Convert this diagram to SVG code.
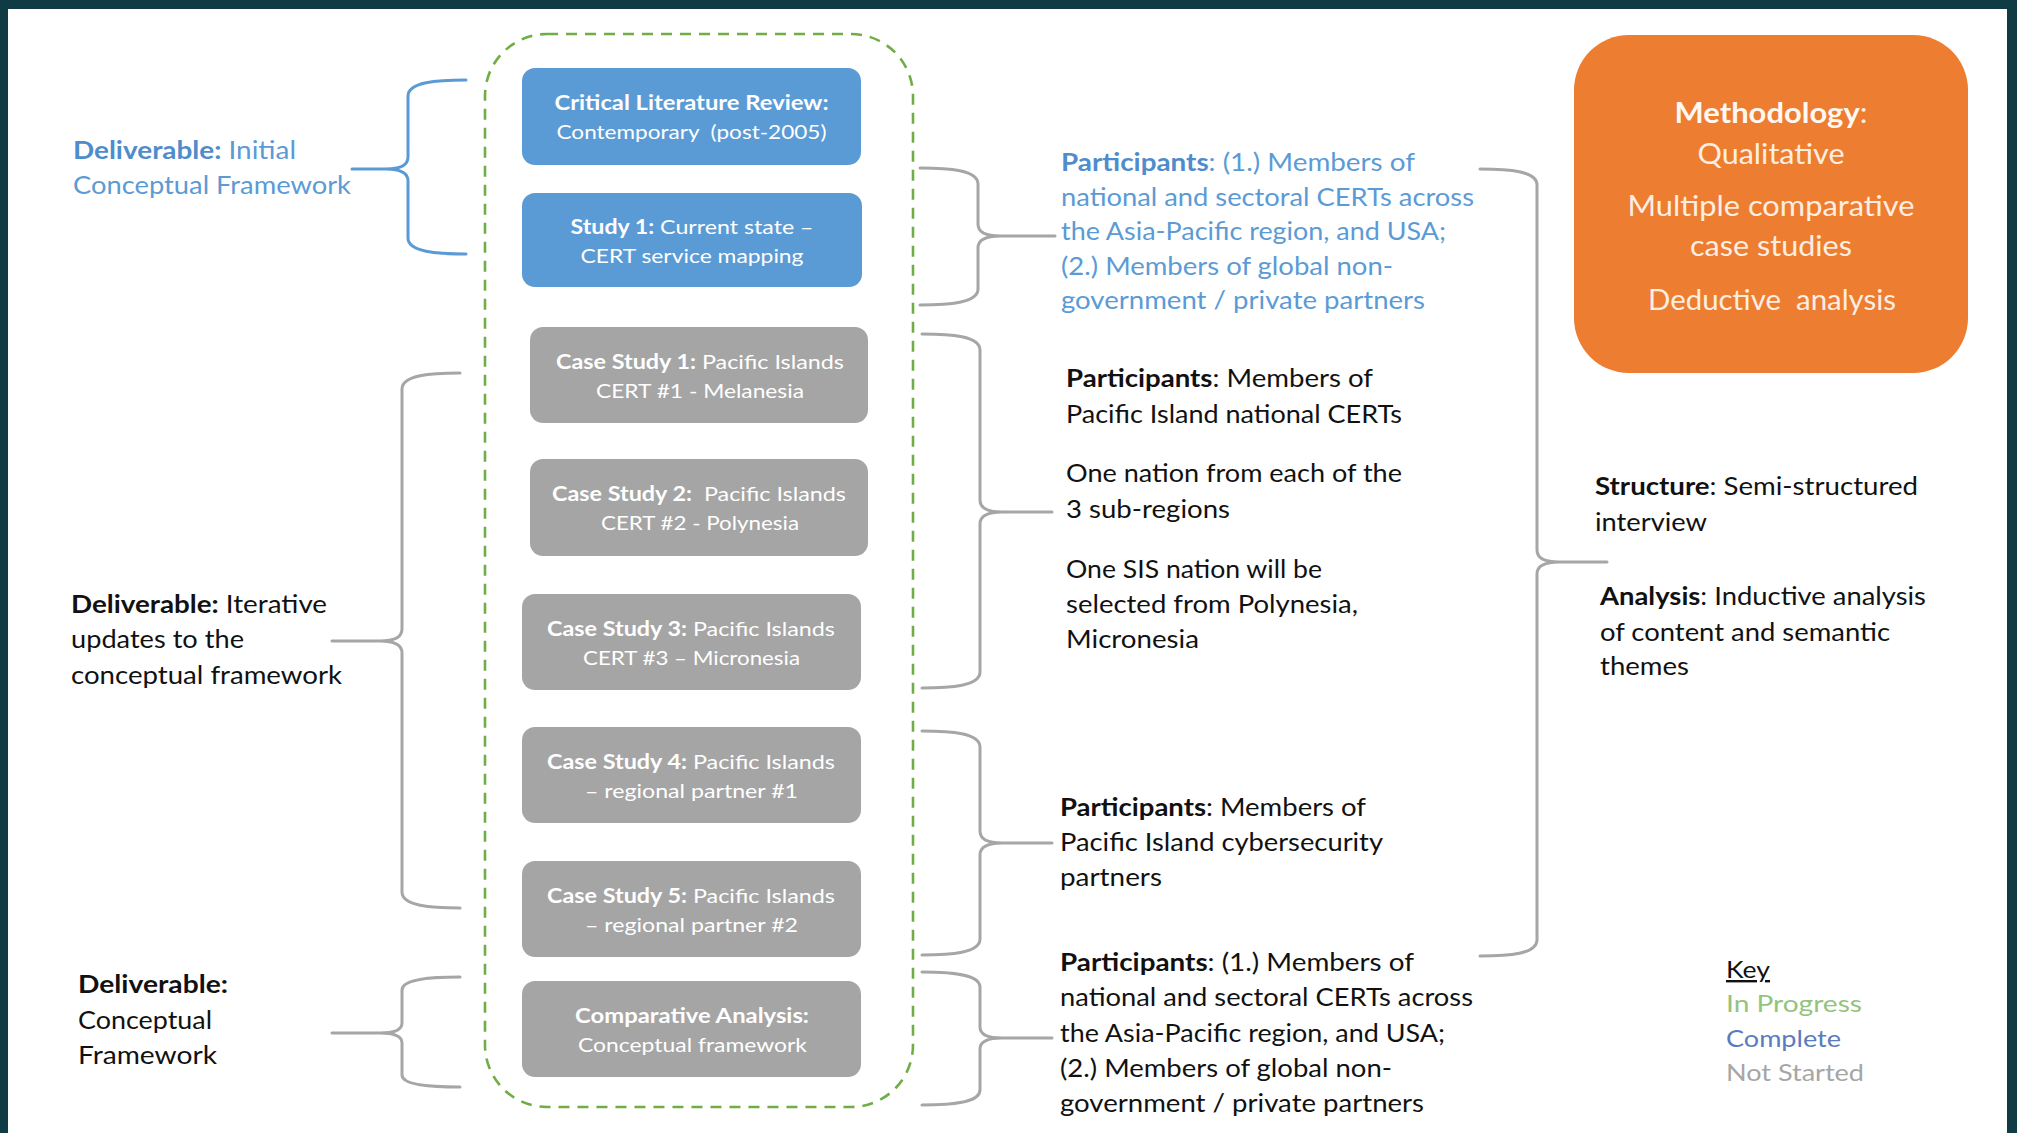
<svg xmlns="http://www.w3.org/2000/svg" width="2017" height="1133" viewBox="0 0 2017 1133">
  <style>
    text { font-family: Lato, "Liberation Sans", sans-serif; }
    .b { font-weight: bold; }
    .box-t { font-size: 20px; fill: #ffffff; text-anchor: middle; }
    .lbl { font-size: 25px; fill: #111111; }
    .blue { fill: #5b9bd5; }
    .blue-b { fill: #4f8ccb; }
    .meth { font-size: 28px; fill: #fdeee2; text-anchor: middle; }
    .key { font-size: 24px; }
    .done { fill: #5b9bd5; }
    .todo { fill: #a5a5a5; }
    .brace { fill: none; stroke: #a6a6a6; stroke-width: 3; stroke-linecap: round; stroke-linejoin: round; }
    .brace-blue { fill: none; stroke: #5b9bd5; stroke-width: 3; stroke-linecap: round; }
  </style>

  <!-- frame -->
  <rect x="0" y="0" width="2017" height="1133" fill="#0e3b44"/>
  <rect x="8" y="9" width="1999" height="1124" fill="#ffffff"/>

  <!-- process column: dashed in-progress boundary -->
  <g id="process-boundary">
    <rect x="485" y="34" width="428" height="1073" rx="62" ry="62" fill="none" stroke="#70ad47" stroke-width="2.6" stroke-dasharray="11 8"/>
  </g>

  <g id="lit-review">
    <rect class="done" x="522" y="68" width="339" height="97" rx="13"/>
    <text class="box-t b" x="691.5" y="110" textLength="274" lengthAdjust="spacingAndGlyphs">Critical Literature Review:</text>
    <text class="box-t" x="691.5" y="139" textLength="270" lengthAdjust="spacingAndGlyphs" xml:space="preserve">Contemporary  (post-2005)</text>
  </g>

  <g id="study-1">
    <rect class="done" x="522" y="193" width="340" height="94" rx="13"/>
    <text class="box-t" x="692" y="233.5" textLength="243" lengthAdjust="spacingAndGlyphs"><tspan class="b">Study 1:</tspan> Current state –</text>
    <text class="box-t" x="692" y="262.5" textLength="223" lengthAdjust="spacingAndGlyphs">CERT service mapping</text>
  </g>

  <g id="case-study-1">
    <rect class="todo" x="530" y="327" width="338" height="96" rx="13"/>
    <text class="box-t" x="700" y="368.5" textLength="288" lengthAdjust="spacingAndGlyphs"><tspan class="b">Case Study 1:</tspan> Pacific Islands</text>
    <text class="box-t" x="700" y="397.5" textLength="208" lengthAdjust="spacingAndGlyphs">CERT #1 - Melanesia</text>
  </g>

  <g id="case-study-2">
    <rect class="todo" x="530" y="459" width="338" height="97" rx="13"/>
    <text class="box-t" x="699" y="501" textLength="294" lengthAdjust="spacingAndGlyphs" xml:space="preserve"><tspan class="b">Case Study 2:</tspan>  Pacific Islands</text>
    <text class="box-t" x="700" y="530" textLength="198" lengthAdjust="spacingAndGlyphs">CERT #2 - Polynesia</text>
  </g>

  <g id="case-study-3">
    <rect class="todo" x="522" y="594" width="339" height="96" rx="13"/>
    <text class="box-t" x="691" y="635.5" textLength="288" lengthAdjust="spacingAndGlyphs"><tspan class="b">Case Study 3:</tspan> Pacific Islands</text>
    <text class="box-t" x="691.5" y="664.5" textLength="217" lengthAdjust="spacingAndGlyphs">CERT #3 – Micronesia</text>
  </g>

  <g id="case-study-4">
    <rect class="todo" x="522" y="727" width="339" height="96" rx="13"/>
    <text class="box-t" x="691" y="768.5" textLength="288" lengthAdjust="spacingAndGlyphs"><tspan class="b">Case Study 4:</tspan> Pacific Islands</text>
    <text class="box-t" x="691.5" y="797.5" textLength="213" lengthAdjust="spacingAndGlyphs">– regional partner #1</text>
  </g>

  <g id="case-study-5">
    <rect class="todo" x="522" y="861" width="339" height="96" rx="13"/>
    <text class="box-t" x="691" y="902.5" textLength="288" lengthAdjust="spacingAndGlyphs"><tspan class="b">Case Study 5:</tspan> Pacific Islands</text>
    <text class="box-t" x="691.5" y="931.5" textLength="213" lengthAdjust="spacingAndGlyphs">– regional partner #2</text>
  </g>

  <g id="comparative-analysis">
    <rect class="todo" x="522" y="981" width="339" height="96" rx="13"/>
    <text class="box-t b" x="692" y="1022.5" textLength="234" lengthAdjust="spacingAndGlyphs">Comparative Analysis:</text>
    <text class="box-t" x="692.5" y="1051.5" textLength="229" lengthAdjust="spacingAndGlyphs">Conceptual framework</text>
  </g>

  <!-- brackets linking stages to deliverables and participants -->
  <g id="connectors">
    <path class="brace-blue" d="M466,80 C437,80 408,82 408,96 L408,157 C408,165 400,169 386,169 L352,169 M386,169 C400,169 408,173 408,181 L408,238 C408,252 437,254 466,254"/>
    <path class="brace" d="M460,373 C431,373 402,375 402,389 L402,629 C402,637 394,641 380,641 L332,641 M380,641 C394,641 402,645 402,653 L402,892 C402,906 431,908 460,908"/>
    <path class="brace" d="M460,977 C431,977 402,979 402,990 L402,1023 C402,1030 394,1033 380,1033 L332,1033 M380,1033 C394,1033 402,1036 402,1043 L402,1075 C402,1085 431,1087 460,1087"/>

    <path class="brace" d="M920,168 C949,168 978,170 978,184 L978,224 C978,232 986,236 1000,236 L1055,236 M1000,236 C986,236 978,240 978,248 L978,289 C978,303 949,305 920,305"/>
    <path class="brace" d="M922,334 C951,334 980,336 980,350 L980,500 C980,508 988,512 1002,512 L1052,512 M1002,512 C988,512 980,516 980,524 L980,672 C980,686 951,688 922,688"/>
    <path class="brace" d="M922,731 C951,731 980,733 980,747 L980,831 C980,839 988,843 1002,843 L1052,843 M1002,843 C988,843 980,847 980,855 L980,939 C980,953 951,955 922,955"/>
    <path class="brace" d="M922,972 C951,972 980,974 980,987 L980,1027 C980,1034 988,1038 1002,1038 L1052,1038 M1002,1038 C988,1038 980,1042 980,1049 L980,1090 C980,1103 951,1105 922,1105"/>

    <path class="brace" d="M1480,169 C1509,169 1537,171 1537,185 L1537,550 C1537,558 1545,562 1559,562 L1607,562 M1559,562 C1545,562 1537,566 1537,574 L1537,940 C1537,954 1509,956 1480,956"/>
  </g>

  <g id="deliverable-initial">
    <text class="lbl blue" x="73" y="159" textLength="223" lengthAdjust="spacingAndGlyphs"><tspan class="b blue-b">Deliverable:</tspan> Initial</text>
    <text class="lbl blue" x="73" y="194" textLength="278" lengthAdjust="spacingAndGlyphs">Conceptual Framework</text>
  </g>

  <g id="deliverable-iterative">
    <text class="lbl" x="71" y="613" textLength="256" lengthAdjust="spacingAndGlyphs"><tspan class="b">Deliverable:</tspan> Iterative</text>
    <text class="lbl" x="71" y="648" textLength="173" lengthAdjust="spacingAndGlyphs">updates to the</text>
    <text class="lbl" x="71" y="684" textLength="271" lengthAdjust="spacingAndGlyphs">conceptual framework</text>
  </g>

  <g id="deliverable-final">
    <text class="lbl b" x="78" y="993" textLength="150" lengthAdjust="spacingAndGlyphs">Deliverable:</text>
    <text class="lbl" x="78" y="1029" textLength="134" lengthAdjust="spacingAndGlyphs">Conceptual</text>
    <text class="lbl" x="78" y="1064" textLength="139" lengthAdjust="spacingAndGlyphs">Framework</text>
  </g>

  <g id="participants-review">
    <text class="lbl blue" x="1061" y="171" textLength="354" lengthAdjust="spacingAndGlyphs"><tspan class="b blue-b">Participants</tspan>: (1.) Members of</text>
    <text class="lbl blue" x="1061" y="205.5" textLength="413" lengthAdjust="spacingAndGlyphs">national and sectoral CERTs across</text>
    <text class="lbl blue" x="1061" y="240" textLength="385" lengthAdjust="spacingAndGlyphs">the Asia-Pacific region, and USA;</text>
    <text class="lbl blue" x="1061" y="274.5" textLength="332" lengthAdjust="spacingAndGlyphs">(2.) Members of global non-</text>
    <text class="lbl blue" x="1061" y="309" textLength="364" lengthAdjust="spacingAndGlyphs">government / private partners</text>
  </g>

  <g id="participants-certs">
    <text class="lbl" x="1066" y="387" textLength="307" lengthAdjust="spacingAndGlyphs"><tspan class="b">Participants</tspan>: Members of</text>
    <text class="lbl" x="1066" y="423" textLength="336" lengthAdjust="spacingAndGlyphs">Pacific Island national CERTs</text>
    <text class="lbl" x="1066" y="482" textLength="336" lengthAdjust="spacingAndGlyphs">One nation from each of the</text>
    <text class="lbl" x="1066" y="518" textLength="164" lengthAdjust="spacingAndGlyphs">3 sub-regions</text>
    <text class="lbl" x="1066" y="578" textLength="256" lengthAdjust="spacingAndGlyphs">One SIS nation will be</text>
    <text class="lbl" x="1066" y="613" textLength="292" lengthAdjust="spacingAndGlyphs">selected from Polynesia,</text>
    <text class="lbl" x="1066" y="648" textLength="133" lengthAdjust="spacingAndGlyphs">Micronesia</text>
  </g>

  <g id="participants-partners">
    <text class="lbl" x="1060" y="816" textLength="306" lengthAdjust="spacingAndGlyphs"><tspan class="b">Participants</tspan>: Members of</text>
    <text class="lbl" x="1060" y="851" textLength="323" lengthAdjust="spacingAndGlyphs">Pacific Island cybersecurity</text>
    <text class="lbl" x="1060" y="886" textLength="102" lengthAdjust="spacingAndGlyphs">partners</text>
  </g>

  <g id="participants-comparative">
    <text class="lbl" x="1060" y="971" textLength="354" lengthAdjust="spacingAndGlyphs"><tspan class="b">Participants</tspan>: (1.) Members of</text>
    <text class="lbl" x="1060" y="1006" textLength="413" lengthAdjust="spacingAndGlyphs">national and sectoral CERTs across</text>
    <text class="lbl" x="1060" y="1042" textLength="385" lengthAdjust="spacingAndGlyphs">the Asia-Pacific region, and USA;</text>
    <text class="lbl" x="1060" y="1077" textLength="332" lengthAdjust="spacingAndGlyphs">(2.) Members of global non-</text>
    <text class="lbl" x="1060" y="1112" textLength="364" lengthAdjust="spacingAndGlyphs">government / private partners</text>
  </g>

  <g id="methodology">
    <rect x="1574" y="35" width="394" height="338" rx="55" ry="55" fill="#ed7d31"/>
    <text class="meth" x="1771" y="123" textLength="193" lengthAdjust="spacingAndGlyphs"><tspan class="b" fill="#fff8f2">Methodology</tspan>:</text>
    <text class="meth" x="1771" y="164" textLength="147" lengthAdjust="spacingAndGlyphs">Qualitative</text>
    <text class="meth" x="1771" y="216" textLength="287" lengthAdjust="spacingAndGlyphs">Multiple comparative</text>
    <text class="meth" x="1771" y="256" textLength="162" lengthAdjust="spacingAndGlyphs">case studies</text>
    <text class="meth" x="1772" y="310" textLength="248" lengthAdjust="spacingAndGlyphs" xml:space="preserve">Deductive  analysis</text>
  </g>

  <g id="interview-design">
    <text class="lbl" x="1595" y="495" textLength="323" lengthAdjust="spacingAndGlyphs"><tspan class="b">Structure</tspan>: Semi-structured</text>
    <text class="lbl" x="1595" y="531" textLength="112" lengthAdjust="spacingAndGlyphs">interview</text>
    <text class="lbl" x="1600" y="605" textLength="326" lengthAdjust="spacingAndGlyphs"><tspan class="b">Analysis</tspan>: Inductive analysis</text>
    <text class="lbl" x="1600" y="641" textLength="290" lengthAdjust="spacingAndGlyphs">of content and semantic</text>
    <text class="lbl" x="1600" y="675" textLength="89" lengthAdjust="spacingAndGlyphs">themes</text>
  </g>

  <g id="key">
    <text class="key" x="1726" y="978" fill="#111111" text-decoration="underline" textLength="44" lengthAdjust="spacingAndGlyphs">Key</text>
    <text class="key" x="1726" y="1012" fill="#93c47d" textLength="136" lengthAdjust="spacingAndGlyphs">In Progress</text>
    <text class="key" x="1726" y="1047" fill="#5b7bbd" textLength="115" lengthAdjust="spacingAndGlyphs">Complete</text>
    <text class="key" x="1726" y="1081" fill="#a6a6a6" textLength="138" lengthAdjust="spacingAndGlyphs">Not Started</text>
  </g>
</svg>
